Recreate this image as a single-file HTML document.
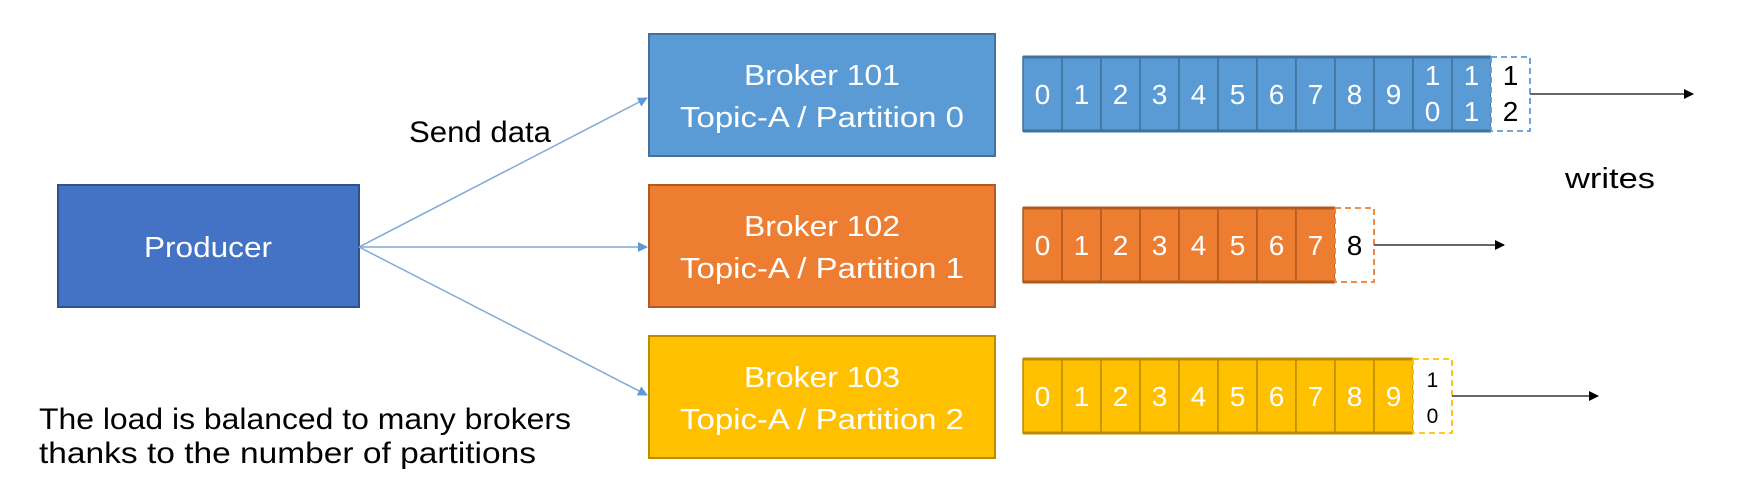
<!DOCTYPE html>
<html><head><meta charset="utf-8"><style>
html,body{margin:0;padding:0;background:#fff;}
svg{display:block;font-family:"Liberation Sans",sans-serif;}
</style></head><body>
<svg width="1740" height="483" viewBox="0 0 1740 483">
<defs>
<marker id="ab" markerWidth="10" markerHeight="10" refX="9" refY="5" orient="auto" markerUnits="userSpaceOnUse"><path d="M0,0 L10,5 L0,10 z" fill="#5b9bd5"/></marker>
<marker id="ak" markerWidth="10" markerHeight="10" refX="9" refY="5" orient="auto" markerUnits="userSpaceOnUse"><path d="M0,0 L10,5 L0,10 z" fill="#000"/></marker>
</defs>
<g>
<rect x="58" y="185" width="301" height="122" fill="#4472c4" stroke="#2f528f" stroke-width="2"/>
<text x="208" y="257" fill="#fff" font-size="29" text-anchor="middle" textLength="128" lengthAdjust="spacingAndGlyphs">Producer</text>
</g>
<g stroke="#7fa9d8" stroke-width="1.5" fill="none">
<line x1="359" y1="247" x2="647" y2="98" marker-end="url(#ab)"/>
<line x1="359" y1="247" x2="647" y2="247" marker-end="url(#ab)"/>
<line x1="359" y1="247" x2="647" y2="395" marker-end="url(#ab)"/>
</g>
<text x="409" y="142" font-size="30" fill="#000" textLength="142" lengthAdjust="spacingAndGlyphs">Send data</text>
<g>
<rect x="649" y="34" width="346" height="122" fill="#5b9bd5" stroke="#41719c" stroke-width="2"/>
<text x="822" y="85" fill="#fff" font-size="29" text-anchor="middle" textLength="156" lengthAdjust="spacingAndGlyphs">Broker 101</text>
<text x="822" y="127" fill="#fff" font-size="29" text-anchor="middle" textLength="284" lengthAdjust="spacingAndGlyphs">Topic-A / Partition 0</text>
</g>
<g>
<rect x="649" y="185" width="346" height="122" fill="#ed7d31" stroke="#ae5a21" stroke-width="2"/>
<text x="822" y="236" fill="#fff" font-size="29" text-anchor="middle" textLength="156" lengthAdjust="spacingAndGlyphs">Broker 102</text>
<text x="822" y="278" fill="#fff" font-size="29" text-anchor="middle" textLength="284" lengthAdjust="spacingAndGlyphs">Topic-A / Partition 1</text>
</g>
<g>
<rect x="649" y="336" width="346" height="122" fill="#ffc000" stroke="#bc8c00" stroke-width="2"/>
<text x="822" y="387" fill="#fff" font-size="29" text-anchor="middle" textLength="156" lengthAdjust="spacingAndGlyphs">Broker 103</text>
<text x="822" y="429" fill="#fff" font-size="29" text-anchor="middle" textLength="284" lengthAdjust="spacingAndGlyphs">Topic-A / Partition 2</text>
</g>
<g id="strips"></g>
<text x="1565" y="188" font-size="29" fill="#000" textLength="90" lengthAdjust="spacingAndGlyphs">writes</text>
<text x="39" y="429" font-size="30" fill="#000" textLength="532" lengthAdjust="spacingAndGlyphs">The load is balanced to many brokers</text>
<text x="39" y="463" font-size="30" fill="#000" textLength="497" lengthAdjust="spacingAndGlyphs">thanks to the number of partitions</text>
</svg>
<script>
const partitionNames = ['partition-0', 'partition-1', 'partition-2'];
const committedCounts = [12, 8, 10];
const fills = ['#5b9bd5', '#ed7d31', '#ffc000'];
const strokes = ['#41719c', '#ae5a21', '#bc8c00'];
const tops = [57, 208, 359];
const arrowEnds = [1693, 1504, 1598];
const NS = 'http://www.w3.org/2000/svg';
const g = document.getElementById('strips');
const X0 = 1023, CW = 39, H = 74;
function mk(tag, attrs, parent) {
  const e = document.createElementNS(NS, tag);
  for (const k in attrs) e.setAttribute(k, attrs[k]);
  parent.appendChild(e);
  return e;
}
function label(parent, val, cx, top, color, fs2) {
  const s = String(val);
  if (s.length === 1) {
    const t = mk('text', {x: cx, y: top + H / 2 + 10, 'font-size': 28, 'text-anchor': 'middle', fill: color}, parent);
    t.textContent = s;
  } else {
    const t1 = mk('text', {x: cx, y: top + 28, 'font-size': fs2, 'text-anchor': 'middle', fill: color}, parent);
    t1.textContent = s[0];
    const t2 = mk('text', {x: cx, y: top + 64, 'font-size': fs2, 'text-anchor': 'middle', fill: color}, parent);
    t2.textContent = s[1];
  }
}
partitionNames.forEach((name, i) => {
  const grp = mk('g', {}, g);
  
  
  const n = committedCounts[i], top = tops[i];
  for (let k = 0; k < n; k++) {
    const c = mk('g', {}, grp);
    
    
    mk('rect', {x: X0 + k * CW, y: top, width: CW, height: H, fill: fills[i], stroke: strokes[i], 'stroke-width': 1.5}, c);
    label(c, k, X0 + k * CW + CW / 2, top, '#fff', 28);
  }
  mk('line', {x1: X0, y1: top, x2: X0 + n * CW, y2: top, stroke: strokes[i], 'stroke-width': 3}, grp);
  mk('line', {x1: X0, y1: top + H, x2: X0 + n * CW, y2: top + H, stroke: strokes[i], 'stroke-width': 3}, grp);
  const nx = mk('g', {}, grp);
  
  
  const xn = X0 + n * CW;
  mk('rect', {x: xn, y: top, width: CW, height: H, fill: '#fff', stroke: fills[i], 'stroke-width': 1.8, 'stroke-dasharray': '6,4'}, nx);
  label(nx, n, xn + CW / 2, top, '#000', n >= 12 ? 28 : 21);
  const ar = mk('line', {x1: xn + CW, y1: top + H / 2, x2: arrowEnds[i], y2: top + H / 2, stroke: '#333', 'stroke-width': 1.5, 'marker-end': 'url(#ak)'}, grp);
  
  
});
</script>
</body></html>
